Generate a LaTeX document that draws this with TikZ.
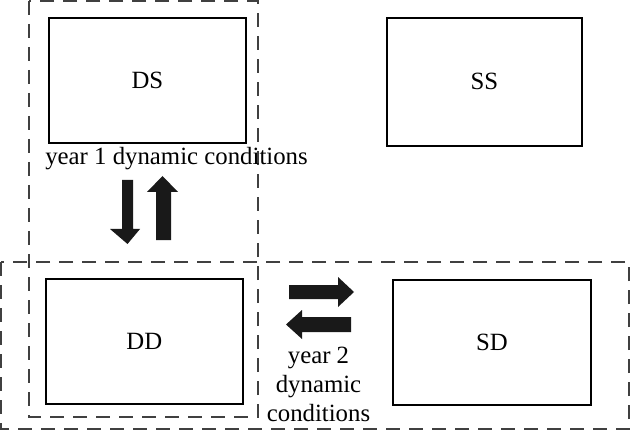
\documentclass[tikz,border=0pt]{standalone}
\usepackage{fontspec}
\setmainfont{Liberation Serif}
\begin{document}
\begin{tikzpicture}[x=1pt,y=-1pt,
  box/.style={draw,line width=1.7pt,inner sep=0pt},
  grp/.style={draw=black!75,line width=1.1pt,dash pattern=on 14pt off 9pt},
  fat/.style={fill=black!90,draw=none},
  lbl/.style={font=\fontsize{24.8}{29}\selectfont,align=center,inner sep=0pt}]
\useasboundingbox (0,0) rectangle (631,430);
% group frames
\draw[grp] (29,1) rectangle (258,417);
\draw[grp] (1,262) rectangle (629,429);
% boxes
\node[box,minimum width=197pt,minimum height=125pt,anchor=north west] (ds) at (48,17) {};
\node[lbl] at (ds.center) {DS};
\node[box,minimum width=195pt,minimum height=128pt,anchor=north west] (ss) at (386,17) {};
\node[lbl] at (ss.center) {SS};
\node[box,minimum width=197pt,minimum height=125pt,anchor=north west] (dd) at (45,278) {};
\node[lbl] at (dd.center) {DD};
\node[box,minimum width=198pt,minimum height=125pt,anchor=north west] (sd) at (392,279) {};
\node[lbl] at (sd.center) {SD};
% labels
\node[lbl,anchor=base] (y1) at (176.5,165) {year 1 dynamic conditions};
\node[lbl,anchor=base] (y2) at (318.5,421) {year 2\\dynamic\\conditions};
% block arrows
\fill[fat] (122,180) -- (133,180) -- (133,229) -- (140,229) -- (127.5,244) -- (110,229) -- (122,229) -- cycle;
\fill[fat] (156,240) -- (171,240) -- (171,192) -- (178,192) -- (162.5,176) -- (147,192) -- (156,192) -- cycle;
\fill[fat] (289,285) -- (338,285) -- (338,277) -- (354,292) -- (338,307) -- (338,299) -- (289,299) -- cycle;
\fill[fat] (351,317) -- (302,317) -- (302,310) -- (286,324.5) -- (302,339) -- (302,332) -- (351,332) -- cycle;
\end{tikzpicture}
\end{document}
